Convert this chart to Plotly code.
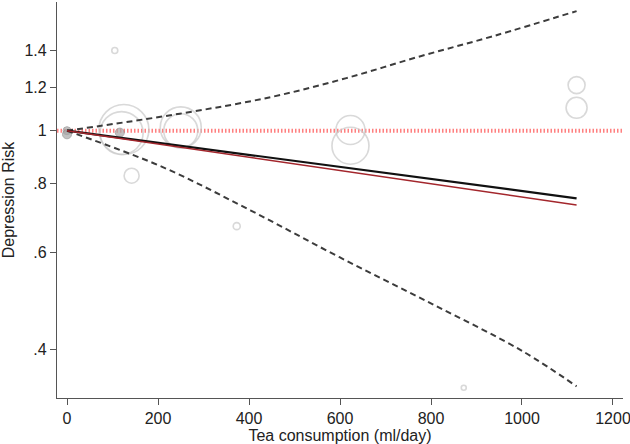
import plotly.graph_objects as go

# Study-level points (tea consumption ml/day, relative risk, bubble diameter)
open_x = [105, 125, 120, 142, 250, 250, 373, 623, 623, 872, 1120, 1120]
open_y = [1.40, 1.005, 0.99, 0.828, 1.014, 1.0, 0.670, 1.003, 0.939, 0.340, 1.211, 1.101]
open_size = [6, 50, 43, 15, 41, 34, 7, 29, 37, 5, 17, 21]

filled_x = [0, 0, 116]
filled_y = [1.0, 0.985, 0.992]
filled_size = [8, 9, 9]

# Fitted curves
fit_x = [0, 200, 400, 600, 800, 1000, 1120]
fit_y = [1.0, 0.9506, 0.9036, 0.8590, 0.8166, 0.7762, 0.753]

lin_x = [0, 400, 800, 1120]
lin_y = [1.0, 0.8944, 0.8000, 0.732]

lo_x = [0, 208, 403, 599, 803, 1000, 1120]
lo_y = [1.0, 0.860, 0.716, 0.588, 0.483, 0.397, 0.342]

hi_x = [0, 248, 451, 614, 777, 939, 1120]
hi_y = [1.0, 1.074, 1.153, 1.247, 1.367, 1.489, 1.652]

ref_x = [-22, 1222]
ref_y = [1, 1]

x_ticks = [0, 200, 400, 600, 800, 1000, 1200]
y_ticks = [0.4, 0.6, 0.8, 1.0, 1.2, 1.4]
y_tick_text = [".4", ".6", ".8", "1", "1.2", "1.4"]

FONT = "Liberation Sans, Arial"

fig = go.Figure()

fig.add_trace(go.Scatter(x=ref_x, y=ref_y, mode="lines",
                         line=dict(color="#ff8080", width=4, dash="1.5px,2px"),
                         hoverinfo="skip"))

fig.add_trace(go.Scatter(x=open_x, y=open_y, mode="markers",
                         marker=dict(size=open_size, color="rgba(0,0,0,0)",
                                     line=dict(color="#c9c9c9", width=1.6))))

fig.add_trace(go.Scatter(x=filled_x, y=filled_y, mode="markers",
                         marker=dict(size=filled_size, color="#a8a8a8",
                                     line=dict(color="#8c8c8c", width=1))))

fig.add_trace(go.Scatter(x=hi_x, y=hi_y, mode="lines", line_shape="spline",
                         line=dict(color="#3c3c3c", width=2, dash="6px,4px")))
fig.add_trace(go.Scatter(x=lo_x, y=lo_y, mode="lines", line_shape="spline",
                         line=dict(color="#3c3c3c", width=2, dash="6px,4px")))

fig.add_trace(go.Scatter(x=fit_x, y=fit_y, mode="lines",
                         line=dict(color="#111111", width=2.2)))
fig.add_trace(go.Scatter(x=lin_x, y=lin_y, mode="lines",
                         line=dict(color="#a3262c", width=1.5)))

axis_common = dict(showgrid=False, zeroline=False, showline=True, automargin=False,
                   ticklabeloverflow="allow",
                   linecolor="#555555", linewidth=1.3,
                   ticks="outside", ticklen=6, tickwidth=1.2, tickcolor="#555555",
                   tickfont=dict(family=FONT, size=16, color="#222222"))

fig.update_layout(
    width=630, height=444,
    margin=dict(l=57, r=7, t=2, b=46, autoexpand=False),
    paper_bgcolor="white", plot_bgcolor="white",
    showlegend=False,
    xaxis=dict(range=[-22, 1222], tickvals=x_ticks,
               title=dict(text="Tea consumption (ml/day)", standoff=2,
                          font=dict(family=FONT, size=16, color="#222222")),
               **axis_common),
    yaxis=dict(type="log", range=[-0.4872, 0.2346], tickvals=y_ticks, ticktext=y_tick_text,
               title=dict(text="Depression Risk", standoff=8,
                          font=dict(family=FONT, size=16, color="#222222")),
               **axis_common),
)

fig.write_html("out.html", config={"displayModeBar": False},
               post_script="document.body.style.margin='0px';")
